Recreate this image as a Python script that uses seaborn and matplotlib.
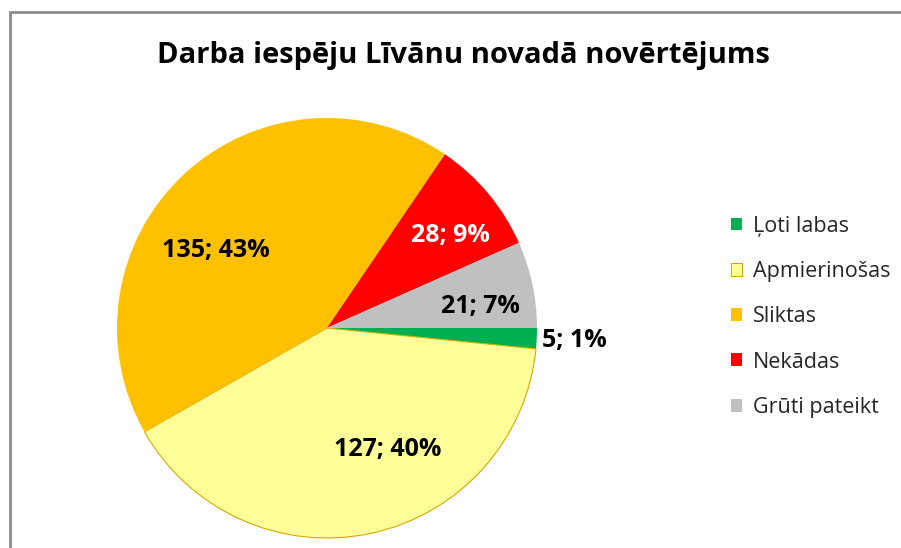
import matplotlib
matplotlib.use('Agg')
import matplotlib.pyplot as plt
import seaborn as sns
from matplotlib.patches import Rectangle

sns.set_theme(style='white')
plt.rcParams['font.family'] = ['Open Sans', 'DejaVu Sans']

categories = ['Ļoti labas', 'Apmierinošas', 'Sliktas', 'Nekādas', 'Grūti pateikt']
counts = [5, 127, 135, 28, 21]
percents = ['1%', '40%', '43%', '9%', '7%']
colors = ['#00B050', '#FFFF99', '#FFC000', '#FF0000', '#C0C0C0']
title = 'Darba iespēju Līvānu novadā novērtējums'

# label placement (pie radius units) and text colours
label_xy = [(1.18, -0.06), (0.29, -0.58), (-0.53, 0.37), (0.59, 0.44), (0.73, 0.10)]
label_colors = ['black', 'black', 'black', 'white', 'black']

fig = plt.figure(figsize=(9.01, 5.48), dpi=100)
fig.patch.set_facecolor('white')

# outer chart frame (cut off at right and bottom)
fig.patches.append(Rectangle((9.5 / 901, -0.05), 1.2, 1 - 11.5 / 548 + 0.05,
                             transform=fig.transFigure, fill=False,
                             edgecolor='#8C8C8C', linewidth=2.0))

ax = fig.add_axes([117 / 901, 10 / 548, 420 / 901, 420 / 548])
wedges, _ = ax.pie(counts, colors=colors, startangle=0, counterclock=False,
                   radius=1.0, wedgeprops=dict(linewidth=0))
wedges[1].set_edgecolor('#D8A800')
wedges[1].set_linewidth(0.8)
ax.set_xlim(-1, 1)
ax.set_ylim(-1, 1)
ax.set_aspect('equal')
ax.axis('off')

for i in range(len(counts)):
    x, y = label_xy[i]
    ax.text(x, y, f'{counts[i]}; {percents[i]}', ha='center', va='center',
            fontsize=18, fontweight='bold', color=label_colors[i])

fig.text(463 / 901, 1 - 55 / 548, title, ha='center', va='center',
         fontsize=21, fontweight='bold', color='black')

leg = fig.legend(wedges, categories, loc='upper left',
                 bbox_to_anchor=(722 / 901, 1 - 207 / 548), frameon=False,
                 fontsize=15.5, handlelength=0.55, handleheight=0.55,
                 handletextpad=0.5, labelspacing=1.13, borderaxespad=0)

plt.savefig('out.png', dpi=100)
